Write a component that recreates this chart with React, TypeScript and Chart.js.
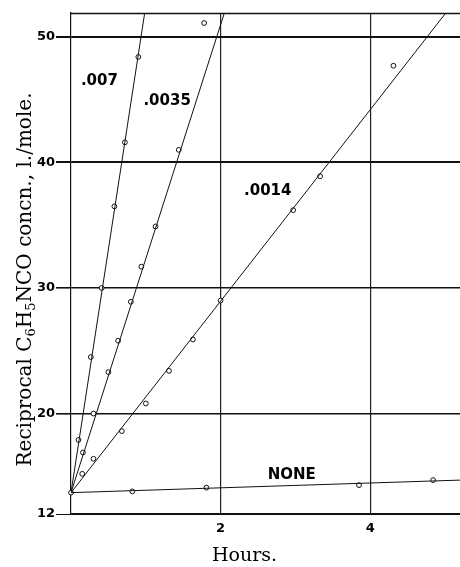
import React, { useEffect, useRef } from "react";
import { Chart, registerables } from "chart.js";

Chart.register(...registerables);

// ---- data ----
const xAxisMin = 0;
const xAxisMax = 5.2;
const yAxisMin = 12;
const yAxisMax = 51.9;
const xTickValues = [2, 4];
const yTickValues = [12, 20, 30, 40, 50];

const xTitle = "Hours.";
const yTitleParts: [string, boolean][] = [
  ["Reciprocal C", false],
  ["6", true],
  ["H", false],
  ["5", true],
  ["NCO concn., l./mole.", false],
];

// measured points
const s007X = [0.10, 0.265, 0.41, 0.58, 0.72, 0.90];
const s007Y = [17.9, 24.5, 30.0, 36.5, 41.6, 48.4];
const s0035X = [0.16, 0.30, 0.50, 0.63, 0.80, 0.94, 1.13, 1.44, 1.78];
const s0035Y = [16.9, 20.0, 23.3, 25.8, 28.9, 31.7, 34.9, 41.0, 51.1];
const s0014X = [0.15, 0.30, 0.68, 1.00, 1.31, 1.63, 2.00, 2.97, 3.33, 4.31];
const s0014Y = [15.2, 16.4, 18.6, 20.8, 23.4, 25.9, 29.0, 36.2, 38.9, 47.7];
const noneX = [0, 0.82, 1.81, 3.85, 4.84];
const noneY = [13.7, 13.8, 14.1, 14.3, 14.7];

// fitted straight lines (end points)
const fit007X = [0, 0.985];
const fit007Y = [13.7, 51.9];
const fit0035X = [0, 2.05];
const fit0035Y = [13.7, 51.9];
const fit0014X = [0, 5.01];
const fit0014Y = [13.7, 51.9];
const fitNoneX = [0, 5.2];
const fitNoneY = [13.7, 14.7];

// curve labels
const labelTexts = [".007", ".0035", ".0014", "NONE"];
const labelX = [0.38, 1.285, 2.63, 2.95];
const labelY = [46.5, 44.9, 37.7, 15.1];

const toPts = (xs: number[], ys: number[]) => xs.map((x, i) => ({ x, y: ys[i] }));

const lineDs = (xs: number[], ys: number[]) => ({
  data: toPts(xs, ys),
  showLine: true,
  borderColor: "#111",
  borderWidth: 1,
  pointRadius: 0,
  fill: false,
});

const pointDs = (xs: number[], ys: number[]) => ({
  data: toPts(xs, ys),
  showLine: false,
  pointRadius: 2.4,
  pointStyle: "circle",
  pointBackgroundColor: "#fff",
  pointBorderColor: "#111",
  pointBorderWidth: 1,
  clip: false,
});

const overlayPlugin = {
  id: "overlay",
  afterDatasetsDraw(chart: any) {
    const { ctx, chartArea, scales } = chart;
    ctx.save();
    // top frame line
    ctx.strokeStyle = "#111";
    ctx.lineWidth = 1.5;
    ctx.beginPath();
    ctx.moveTo(chartArea.left, chartArea.top + 0.5);
    ctx.lineTo(chartArea.right, chartArea.top + 0.5);
    ctx.stroke();

    // curve labels
    ctx.fillStyle = "#000";
    ctx.font = "bold 15px 'DejaVu Sans'";
    ctx.textAlign = "center";
    ctx.textBaseline = "middle";
    labelTexts.forEach((t, i) => {
      ctx.fillText(t, scales.x.getPixelForValue(labelX[i]), scales.y.getPixelForValue(labelY[i]));
    });

    // x title
    ctx.font = "19px 'DejaVu Serif'";
    ctx.fillText(xTitle, chartArea.left + (chartArea.right - chartArea.left) * 0.446, chart.height - 11);

    // y title with subscripts
    const size = 20;
    const subSize = 13;
    ctx.translate(24, (chartArea.top + chartArea.bottom) / 2 + 16);
    ctx.rotate(-Math.PI / 2);
    ctx.textAlign = "left";
    ctx.textBaseline = "alphabetic";
    const widths = yTitleParts.map(([t, sub]) => {
      ctx.font = `${sub ? subSize : size}px 'DejaVu Serif'`;
      return ctx.measureText(t).width;
    });
    const total = widths.reduce((a, b) => a + b, 0);
    let x = -total / 2;
    const base = size * 0.35;
    yTitleParts.forEach(([t, sub], i) => {
      ctx.font = `${sub ? subSize : size}px 'DejaVu Serif'`;
      ctx.fillText(t, x, sub ? base + 4 : base);
      x += widths[i];
    });
    ctx.restore();
  },
};

export default function App() {
  const canvasRef = useRef<HTMLCanvasElement | null>(null);

  useEffect(() => {
    if (!canvasRef.current) return;
    const chart = new Chart(canvasRef.current, {
      type: "scatter",
      data: {
        datasets: [
          lineDs(fit007X, fit007Y),
          lineDs(fit0035X, fit0035Y),
          lineDs(fit0014X, fit0014Y),
          lineDs(fitNoneX, fitNoneY),
          pointDs(s007X, s007Y),
          pointDs(s0035X, s0035Y),
          pointDs(s0014X, s0014Y),
          pointDs(noneX, noneY),
        ] as any,
      },
      options: {
        responsive: false,
        animation: false,
        layout: { autoPadding: false, padding: { top: 13, right: 0, left: 0, bottom: 0 } },
        plugins: { legend: { display: false }, tooltip: { enabled: false } },
        scales: {
          x: {
            type: "linear",
            min: xAxisMin,
            max: xAxisMax,
            afterBuildTicks: (s: any) => {
              s.ticks = xTickValues.map((v) => ({ value: v }));
            },
            afterFit: (s: any) => {
              s.height = 53;
            },
            grid: { color: "#222", lineWidth: 1.2, drawTicks: false, tickLength: 0 },
            border: { display: true, color: "#111", width: 1.2 },
            ticks: {
              padding: 7,
              color: "#000",
              font: { family: "'DejaVu Sans'", weight: "bold", size: 13 },
            },
          },
          y: {
            type: "linear",
            min: yAxisMin,
            max: yAxisMax,
            afterBuildTicks: (s: any) => {
              s.ticks = yTickValues.map((v) => ({ value: v }));
            },
            afterFit: (s: any) => {
              s.width = 71;
            },
            grid: {
              color: "#111",
              lineWidth: (c: any) => {
                const v = c.tick ? c.tick.value : 0;
                if (v === 40 || v === 50) return 2;
                if (v === 20 || v === 30) return 1.6;
                return 1;
              },
              drawTicks: true,
              tickLength: 15,
            },
            border: { display: true, color: "#111", width: 1.2 },
            ticks: {
              padding: 1,
              color: "#000",
              font: { family: "'DejaVu Sans'", weight: "bold", size: 13 },
            },
          },
        },
      },
      plugins: [overlayPlugin],
    } as any);
    return () => chart.destroy();
  }, []);

  return (
    <div style={{ position: "fixed", left: 0, top: 0, width: 460, height: 567, background: "#fff" }}>
      <canvas ref={canvasRef} width={460} height={567} />
    </div>
  );
}
